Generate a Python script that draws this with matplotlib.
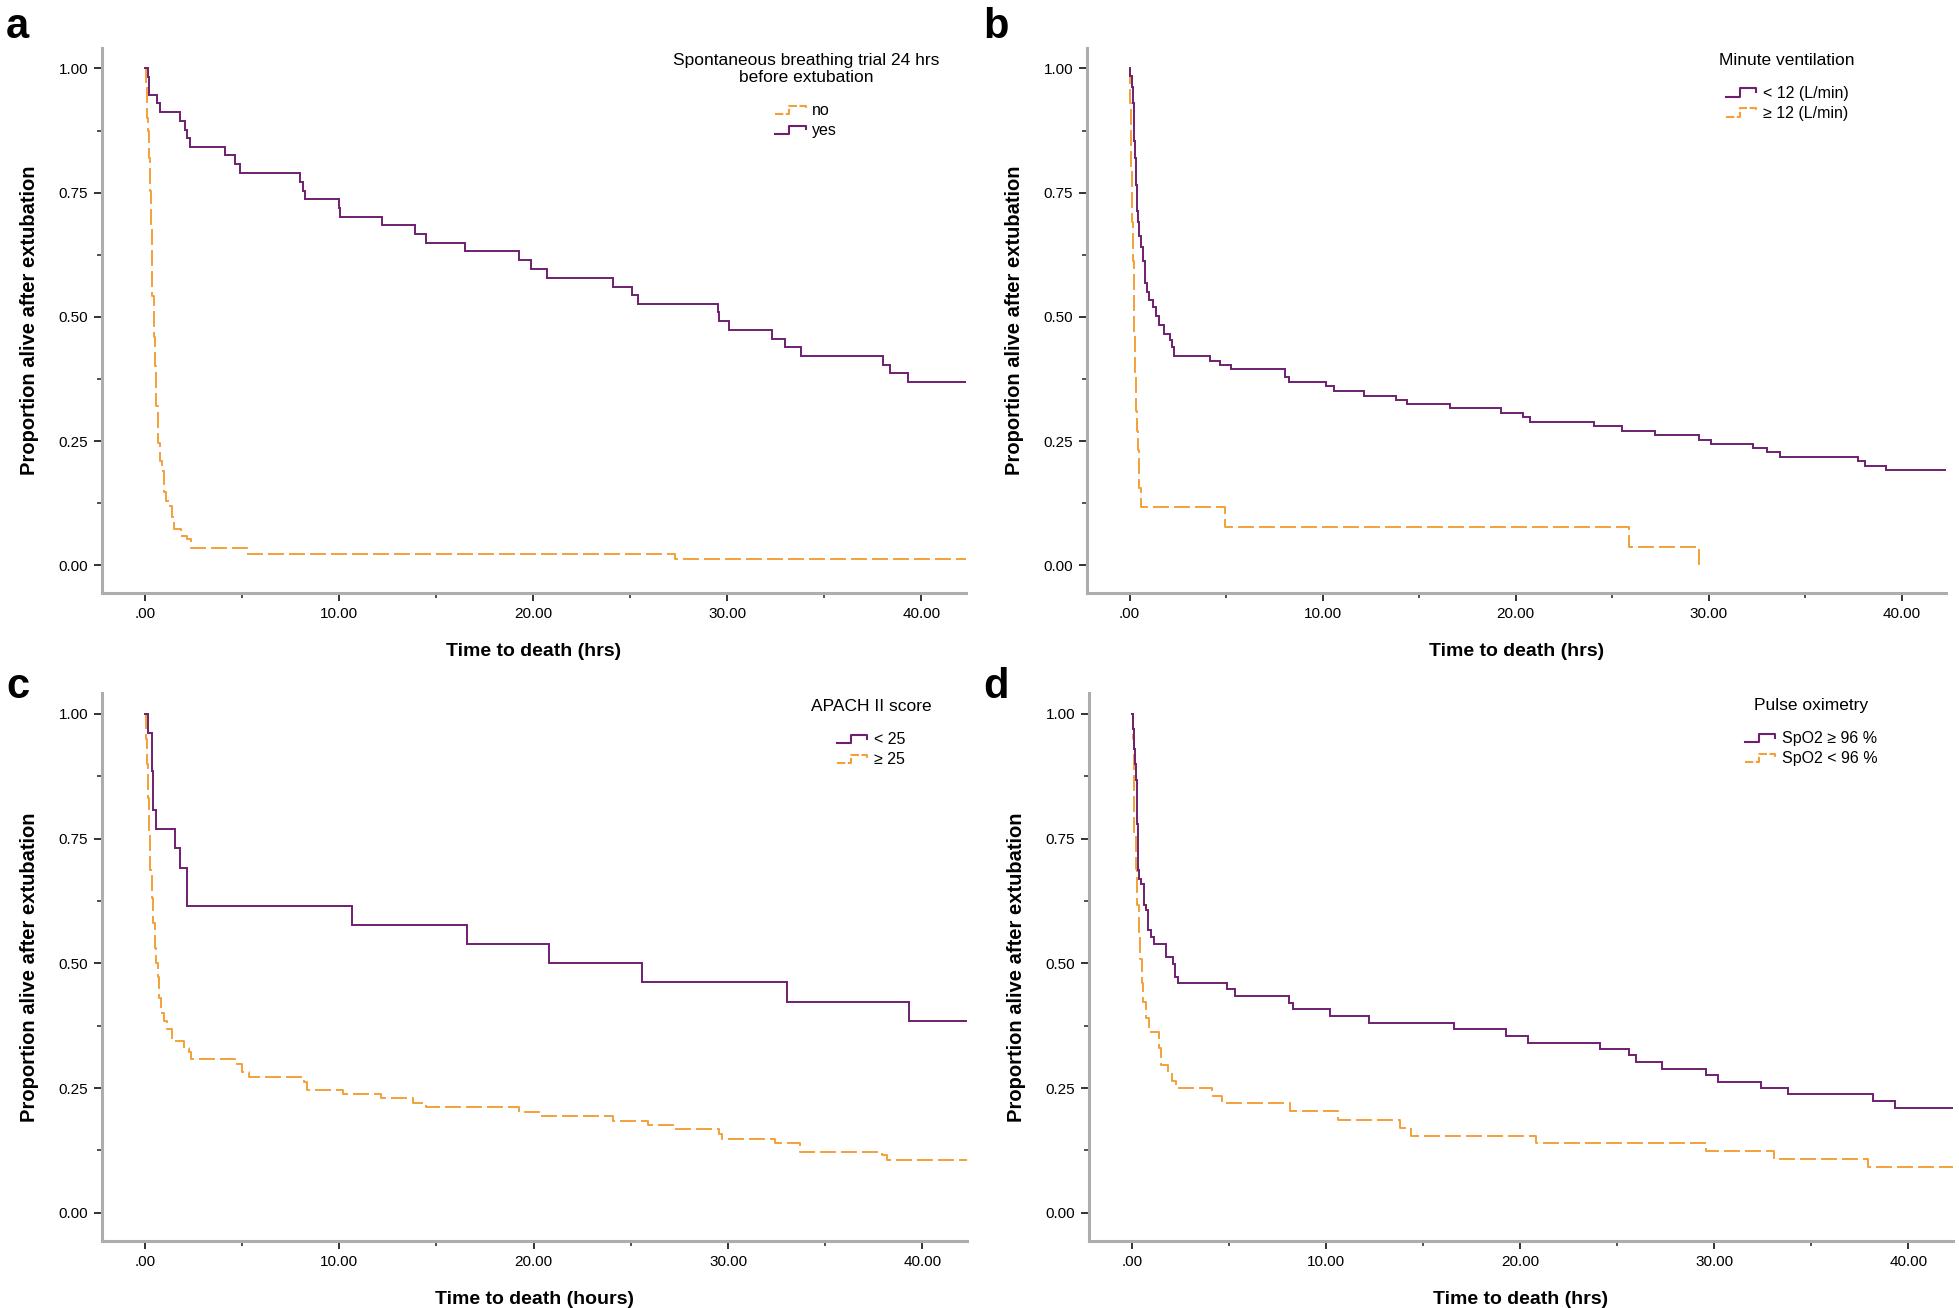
import matplotlib
matplotlib.use('Agg')
import matplotlib.pyplot as plt
import numpy as np
from matplotlib import font_manager
from matplotlib.legend_handler import HandlerBase
from matplotlib.lines import Line2D

# ---- data ----
follow_up_end = 43.0

a_yes_t = [0, 0.17, 0.22, 0.64, 0.76, 1.83, 2.08, 2.20, 2.32, 4.15, 4.66, 4.92, 8.02, 8.14, 8.27,
           10.0, 10.06, 12.2, 13.9, 14.5, 16.5, 19.3, 19.9, 20.7, 24.1, 25.1, 25.4, 29.55, 29.6, 30.1,
           32.3, 33.0, 33.8, 38.0, 38.4, 39.3]
a_yes_s = [1.0, 0.982, 0.946, 0.930, 0.912, 0.895, 0.877, 0.860, 0.842, 0.825, 0.807, 0.789, 0.772,
           0.754, 0.737, 0.719, 0.702, 0.684, 0.667, 0.649, 0.632, 0.614, 0.596, 0.579, 0.561, 0.544,
           0.526, 0.509, 0.491, 0.474, 0.456, 0.439, 0.421, 0.404, 0.386, 0.368]
a_no_t = [0, 0.05, 0.1, 0.14, 0.17, 0.21, 0.25, 0.3, 0.35, 0.39, 0.45, 0.51, 0.58, 0.68, 0.78, 0.88,
          0.98, 1.1, 1.24, 1.41, 1.53, 1.86, 2.20, 2.37, 5.25, 27.3]
a_no_s = [1.0, 0.97, 0.93, 0.90, 0.875, 0.82, 0.754, 0.68, 0.60, 0.542, 0.46, 0.401, 0.32, 0.246,
          0.21, 0.189, 0.147, 0.13, 0.119, 0.097, 0.073, 0.059, 0.052, 0.035, 0.023, 0.012]

b_low_t = [0, 0.05, 0.12, 0.17, 0.21, 0.25, 0.29, 0.34, 0.39, 0.45, 0.51, 0.6, 0.69, 0.82, 0.92,
           1.03, 1.2, 1.37, 1.54, 1.8, 2.09, 2.2, 2.32, 4.15, 4.68, 5.28, 8.05, 8.28, 10.18, 10.57,
           12.13, 13.83, 14.4, 16.58, 19.24, 20.37, 20.73, 24.06, 25.5, 27.22, 29.5, 30.1, 32.3,
           33.0, 33.7, 37.75, 38.1, 39.2]
b_low_s = [1.0, 0.985, 0.963, 0.93, 0.891, 0.855, 0.819, 0.765, 0.713, 0.69, 0.663, 0.64, 0.612,
           0.569, 0.55, 0.533, 0.519, 0.501, 0.483, 0.465, 0.454, 0.44, 0.421, 0.411, 0.403, 0.395,
           0.379, 0.368, 0.36, 0.35, 0.341, 0.333, 0.325, 0.316, 0.307, 0.298, 0.288, 0.280, 0.271,
           0.262, 0.252, 0.244, 0.236, 0.228, 0.218, 0.209, 0.200, 0.192]
b_high_t = [0, 0.05, 0.1, 0.14, 0.17, 0.22, 0.27, 0.31, 0.37, 0.43, 0.51, 0.6, 4.94, 25.85, 29.5]
b_high_s = [1.0, 0.93, 0.80, 0.691, 0.612, 0.462, 0.38, 0.311, 0.27, 0.232, 0.156, 0.117, 0.0775,
            0.037, 0.0]

c_low_t = [0, 0.17, 0.36, 0.40, 0.43, 0.55, 1.54, 1.83, 2.15, 2.17, 10.65, 16.57, 20.78, 25.55,
           33.05, 39.29]
c_low_s = [1.0, 0.962, 0.885, 0.846, 0.808, 0.769, 0.731, 0.692, 0.654, 0.615, 0.577, 0.538,
           0.500, 0.462, 0.423, 0.385]
c_high_t = [0, 0.05, 0.1, 0.17, 0.23, 0.29, 0.35, 0.41, 0.5, 0.58, 0.67, 0.75, 0.84, 1.0, 1.15,
            1.4, 2.0, 2.26, 2.35, 4.66, 5.0, 5.34, 8.17, 8.34, 10.2, 12.15, 13.8, 14.45, 19.24,
            20.33, 24.1, 25.9, 27.24, 29.53, 29.7, 32.4, 33.7, 37.9, 38.2]
c_high_s = [1.0, 0.95, 0.9, 0.832, 0.76, 0.688, 0.63, 0.581, 0.53, 0.5, 0.473, 0.43, 0.401, 0.385,
            0.369, 0.344, 0.330, 0.323, 0.308, 0.299, 0.283, 0.272, 0.262, 0.246, 0.238, 0.229,
            0.219, 0.211, 0.202, 0.194, 0.184, 0.176, 0.167, 0.158, 0.148, 0.140, 0.122, 0.115,
            0.106]

d_high_t = [0, 0.05, 0.1, 0.15, 0.22, 0.27, 0.32, 0.4, 0.48, 0.65, 0.74, 0.85, 0.99, 1.16, 1.79,
            2.14, 2.24, 2.36, 4.92, 5.3, 8.09, 8.29, 10.2, 12.2, 16.6, 19.3, 20.4, 24.1, 25.6,
            25.96, 27.3, 29.6, 30.2, 32.4, 33.8, 38.2, 39.3]
d_high_s = [1.0, 0.97, 0.93, 0.9, 0.867, 0.78, 0.688, 0.67, 0.659, 0.616, 0.606, 0.566, 0.552,
            0.538, 0.513, 0.498, 0.473, 0.460, 0.448, 0.434, 0.421, 0.409, 0.394, 0.381, 0.369,
            0.355, 0.341, 0.329, 0.316, 0.302, 0.289, 0.276, 0.262, 0.250, 0.237, 0.223, 0.209]
d_low_t = [0, 0.05, 0.1, 0.14, 0.2, 0.27, 0.35, 0.43, 0.52, 0.6, 0.75, 0.91, 1.38, 1.5, 1.85, 2.1,
           2.27, 4.15, 4.67, 8.17, 10.64, 13.83, 14.4, 20.8, 29.6, 33.1, 37.9]
d_low_s = [1.0, 0.95, 0.88, 0.76, 0.69, 0.616, 0.56, 0.509, 0.46, 0.423, 0.39, 0.362, 0.33, 0.297,
           0.28, 0.265, 0.251, 0.233, 0.219, 0.204, 0.186, 0.170, 0.154, 0.140, 0.123, 0.107, 0.092]

x_ticks = [0, 10, 20, 30, 40]
x_ticklabels = ['.00', '10.00', '20.00', '30.00', '40.00']
y_ticks = [0, 0.25, 0.5, 0.75, 1.0]
y_ticklabels = ['0.00', '0.25', '0.50', '0.75', '1.00']

PURPLE = '#6e1f70'
ORANGE = '#f4a038'

names = {f.name for f in font_manager.fontManager.ttflist}
narrow = 'Liberation Sans Narrow' if 'Liberation Sans Narrow' in names else 'Liberation Sans'
plain = ['Liberation Sans', 'DejaVu Sans']


class StepHandler(HandlerBase):
    # little step glyph like the SPSS legend
    def create_artists(self, legend, orig_handle, xdescent, ydescent, width, height, fontsize, trans):
        xs = np.array([0.0, 0.45, 0.45, 1.0, 1.0]) * width - xdescent
        ys = np.array([0.1, 0.1, 0.85, 0.85, 0.5]) * height - ydescent
        ln = Line2D(xs, ys, color=orig_handle.get_color(), lw=1.5,
                    linestyle=orig_handle.get_linestyle())
        if orig_handle.get_linestyle() == '--':
            ln.set_dashes((4, 1.2))
        ln.set_transform(trans)
        return [ln]


def km(ax, t, s, color, dashed, label, extend=True):
    t = list(t)
    s = list(s)
    if extend:
        t = t + [follow_up_end]
        s = s + [s[-1]]
    kw = dict(color=color, lw=1.4, where='post', label=label, solid_joinstyle='miter')
    if dashed:
        line, = ax.step(t, s, linestyle='--', dashes=(8.2, 2.6), **kw)
    else:
        line, = ax.step(t, s, **kw)
    return line


def style_axes(ax, xlabel):
    ax.set_xlim(-2.2, 42.3)
    ax.set_ylim(-0.056, 1.042)
    for side in ['top', 'right']:
        ax.spines[side].set_visible(False)
    for side in ['left', 'bottom']:
        ax.spines[side].set_color('#adadad')
        ax.spines[side].set_linewidth(2.2)
    ax.set_xticks(x_ticks)
    ax.set_xticklabels(x_ticklabels, fontfamily=narrow, fontsize=11)
    ax.set_xticks([5, 15, 25, 35], minor=True)
    ax.set_yticks(y_ticks)
    ax.set_yticklabels(y_ticklabels, fontfamily=narrow, fontsize=11)
    ax.set_yticks([0.125, 0.375, 0.625, 0.875], minor=True)
    ax.tick_params(which='major', length=6, width=1.3, color='#222222', pad=4)
    ax.tick_params(which='minor', length=3.5, width=1.1, color='#222222')
    ax.set_xlabel(xlabel, fontfamily=narrow, fontweight='bold', fontsize=14, labelpad=16)
    ax.set_ylabel('Proportion alive after extubation', fontfamily=narrow, fontweight='bold',
                  fontsize=14.5, labelpad=14)


def add_legend(ax, handles, title, x, y):
    leg = ax.legend(handles=handles, title=title, loc='upper center', bbox_to_anchor=(x, y),
                    frameon=False, handler_map={Line2D: StepHandler()},
                    prop={'family': plain, 'size': 11.5},
                    title_fontproperties={'family': plain, 'size': 12.5},
                    handlelength=1.9, handletextpad=0.4, labelspacing=0.3, borderpad=0.1)
    leg.get_title().set_multialignment('center')
    leg._legend_box.sep = 13


fig = plt.figure(figsize=(19.59, 13.08), dpi=100)

ax_a = fig.add_axes([0.0521, 0.5466, 0.4410, 0.4170])
ax_b = fig.add_axes([0.5549, 0.5466, 0.4385, 0.4170])
ax_c = fig.add_axes([0.0521, 0.0515, 0.4416, 0.4187])
ax_d = fig.add_axes([0.5559, 0.0515, 0.4410, 0.4187])

# a
h_no = km(ax_a, a_no_t, a_no_s, ORANGE, True, 'no')
h_yes = km(ax_a, a_yes_t, a_yes_s, PURPLE, False, 'yes')
style_axes(ax_a, 'Time to death (hrs)')
add_legend(ax_a, [h_no, h_yes], 'Spontaneous breathing trial 24 hrs\nbefore extubation', 0.815, 1.008)

# b
h_hi = km(ax_b, b_high_t, b_high_s, ORANGE, True, '\u2265 12 (L/min)', extend=False)
h_lo = km(ax_b, b_low_t, b_low_s, PURPLE, False, '< 12 (L/min)')
style_axes(ax_b, 'Time to death (hrs)')
add_legend(ax_b, [h_lo, h_hi], 'Minute ventilation', 0.815, 1.008)

# c
h_hi = km(ax_c, c_high_t, c_high_s, ORANGE, True, '\u2265 25')
h_lo = km(ax_c, c_low_t, c_low_s, PURPLE, False, '< 25')
style_axes(ax_c, 'Time to death (hours)')
add_legend(ax_c, [h_lo, h_hi], 'APACH II score', 0.889, 1.006)

# d
h_lo = km(ax_d, d_low_t, d_low_s, ORANGE, True, 'SpO2 < 96 %')
h_hi = km(ax_d, d_high_t, d_high_s, PURPLE, False, 'SpO2 \u2265 96 %')
style_axes(ax_d, 'Time to death (hrs)')
add_legend(ax_d, [h_hi, h_lo], 'Pulse oximetry', 0.836, 1.008)

for letter, x, y in [('a', 0.003, 0.995), ('b', 0.502, 0.995), ('c', 0.003, 0.49), ('d', 0.502, 0.49)]:
    fig.text(x, y, letter, fontsize=30, fontweight='bold', family=plain, va='top', ha='left')

fig.savefig('out.png', dpi=100, facecolor='white')
